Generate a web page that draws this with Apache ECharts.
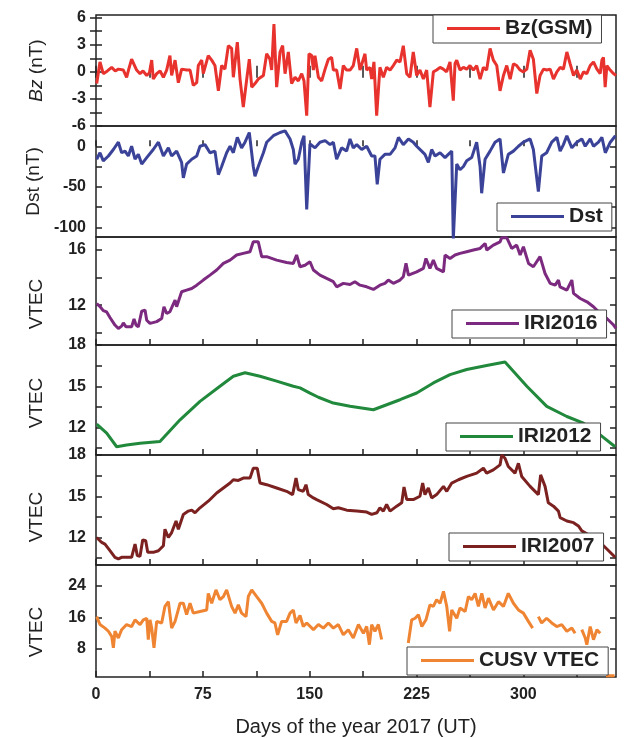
<!DOCTYPE html>
<html>
<head>
<meta charset="utf-8">
<script src="https://cdn.jsdelivr.net/npm/echarts@6/dist/echarts.min.js"></script>
<style>
html,body{margin:0;padding:0;background:#fff;}
#chart{width:625px;height:738px;}
</style>
</head>
<body>
<div id="chart"></div>
<script>
// ---- data (day of year, value) ----
const xTicks = [0, 37.5, 75, 112.5, 150, 187.5, 225, 262.5, 300, 337.5];
const xLabels = [0, 75, 150, 225, 300];

const bzTicks = [-6, -4.5, -3, -1.5, 0, 1.5, 3, 4.5, 6];
const bzLabels = [-6, -3, 0, 3, 6];
const dstTicks = [-100, -75, -50, -25, 0];
const dstLabels = [-100, -50, 0];
const iri16Ticks = [10, 12, 14, 16];
const iri16Labels = [12, 16];
const iri12Ticks = [10.5, 12, 13.5, 15, 16.5, 18];
const iri12Labels = [12, 15, 18];
const iri07Ticks = [10.5, 12, 13.5, 15, 16.5, 18];
const iri07Labels = [12, 15, 18];
const cusvTicks = [8, 16, 24];
const cusvLabels = [8, 16, 24];

const bz = [[0.5,-1.3],[2.8,1.1],[5.1,-0.2],[8,0.1],[11,0.5],[13.5,0.1],[15.7,0.3],[19.2,0.2],[21.5,-0.6],[23,0.3],[25,1.4],[28.5,0.2],[30.9,-0.2],[33,0.1],[35.6,-0.4],[37.5,-0.1],[39.1,1.3],[40.2,-0.8],[42.6,-0.2],[45,0.1],[47.3,-0.6],[49.6,0.2],[51.9,1.8],[53.1,-0.4],[55.5,1.3],[57.8,-1.2],[60.1,0.3],[63.6,0.2],[66,0.2],[68.3,-1.5],[70.7,-1.2],[71.8,0.7],[74.2,1.3],[75.3,-0.2],[78.8,1.8],[81.2,1.3],[83.5,0.7],[85.9,-2.1],[88.2,0.7],[90.5,0.3],[92.9,2.9],[95.2,2.6],[96.4,-0.6],[97.6,-0.4],[99.2,3.3],[101.1,-0.8],[103.4,-3.9],[105.8,-0.8],[107.6,1.4],[109.3,-1.7],[111.6,-1.3],[113.9,-0.8],[117.5,-0.4],[119.8,2.0],[122.1,1.4],[123.3,0.2],[124.9,5.3],[126.8,-1.7],[129.2,2.2],[131,2.9],[132.7,-0.2],[135,2.2],[137.3,-1.3],[139.7,-0.6],[142,-1.0],[144.4,-0.2],[146,-1.0],[147.9,-4.85],[149.5,2.0],[151.4,1.8],[152.6,0.2],[153.7,1.8],[156.1,-0.6],[158.4,-1.0],[160.8,0.3],[163.1,1.4],[165.4,1.6],[166.6,0.2],[168.9,0.2],[171.3,-1.9],[173.6,0.7],[175.9,0.2],[178.3,0.2],[180.6,0.7],[183,2.6],[185.3,0.2],[186.5,0.3],[188.8,2.0],[190,0.2],[192.3,0.5],[193.5,-0.8],[195.1,1.1],[197,-4.85],[199.3,0.5],[201.7,-0.6],[204,0.5],[206.4,0.2],[208.7,0.7],[211.1,1.3],[213.4,1.1],[215.7,2.9],[218.1,-0.2],[220.4,-0.6],[222.7,2.2],[225.1,-0.4],[227.4,0.2],[229.8,-0.8],[232.1,0.2],[234.4,-3.9],[236.8,0],[239.1,0.2],[241.5,0.5],[243.8,0.3],[246.1,0],[248.5,1.1],[249.7,-1.2],[250.8,-3.2],[252,0.9],[253.2,1.3],[255.5,0.2],[257.9,0.5],[260.2,0.3],[262.5,0.7],[264.9,0.2],[267.2,0.7],[269.6,-0.8],[271.9,0.5],[274.2,0.2],[276.6,2.6],[278.9,1.3],[281.3,0.7],[283.6,-2.1],[286,-0.4],[288.3,0.7],[290.7,-0.8],[293,0.9],[295.3,0.7],[297.7,0.2],[300,0],[302.4,0.3],[304.7,2.4],[307,1.4],[309.4,-2.4],[311.7,-0.4],[314.1,0.3],[316.4,0.2],[318.8,0.3],[321.1,-0.8],[323.5,0],[325.8,0.5],[328.1,0.3],[330.5,2.2],[332.8,0.9],[335.2,-0.4],[337.5,0.2],[339.9,-0.8],[342.2,0],[344.5,-0.2],[346.9,0.7],[349.2,1.1],[351.6,0.3],[353.9,-0.2],[355.1,1.3],[356.2,1.6],[357.4,-1.7],[358.6,0.7],[360.9,0.2],[363.3,-0.2],[365,-0.4]];

const dst = [[0.5,-16],[2.8,-8],[5.1,-18],[8.7,-12],[12.2,-4],[15.7,5],[18,-8],[20.4,-6],[22.7,-12],[25,0],[27.4,-16],[29.7,-10],[32.1,-22],[35.6,-14],[40.2,-4],[43.8,5],[47.3,-12],[50.8,-2],[53.1,-12],[56.6,-6],[60.1,-20],[61.3,-39],[63.6,-22],[67.2,-16],[70.7,-12],[73,0],[76.5,2],[80,-8],[83.5,-6],[85.9,-35],[88.2,-25],[91.7,-8],[94.1,0],[96.4,-8],[99.2,11],[102.2,-2],[104.6,5],[107.6,17],[110.4,-25],[111.6,-37],[113.9,-25],[117.5,-8],[119.8,5],[124.5,13],[129.2,17],[132.7,19],[136.2,9],[138.5,-4],[139.7,-22],[142,-16],[144.4,5],[146,13],[147.9,-78],[150.2,3],[153.7,-2],[157.2,5],[160.8,7],[164.3,2],[166.6,5],[168.9,-16],[172.4,-2],[175.9,-6],[178.3,9],[180.6,-2],[183,2],[186.5,-4],[190,0],[193.5,-12],[195.8,-12],[197.4,-47],[199.3,-16],[202.8,-10],[206.4,-10],[209.9,-2],[212.3,11],[215.7,2],[219.3,9],[222.7,5],[225.1,0],[228.6,-6],[230.9,-10],[233.3,-20],[235.6,-4],[238,-12],[241.5,-8],[245,-14],[247.3,-10],[249.7,-6],[250.8,-115],[253.2,-22],[255.5,-29],[257.9,-25],[260.2,-18],[263.7,-14],[267.2,5],[269.6,-25],[270.7,-58],[273.1,-16],[276.6,-6],[280.1,5],[283.6,9],[286,-33],[289.4,-10],[293,-6],[296.5,0],[300,5],[304.7,9],[307,-4],[310.5,-56],[312.9,-12],[316.3,-8],[319.9,5],[323.5,11],[325.8,-6],[328.1,2],[330.5,13],[334,-2],[337.5,5],[341,9],[343.4,0],[346.9,9],[349.2,0],[352.7,5],[355.1,11],[357.5,-8],[361,5],[364.6,13]];

const iri2016 = [[0.5,12.1],[2.8,11.9],[5.1,11.6],[7.5,11.5],[9.8,11.1],[13.3,10.55],[15.7,10.3],[18,10.47],[19.2,10.7],[21.1,10.42],[25,10.42],[26.7,11.0],[28.1,10.55],[29.7,10.42],[32.1,11.56],[34.4,11.64],[35.6,10.9],[37.9,10.67],[42.6,10.8],[46.1,11.03],[47.7,11.88],[49.6,11.39],[51.9,11.52],[55.5,12.36],[56.6,11.88],[60.1,12.97],[63.6,13.09],[67.2,13.21],[70.7,13.45],[75.3,13.82],[80,14.18],[84.7,14.55],[89.4,15.03],[94.1,15.27],[98.7,15.64],[103.4,15.76],[108.1,15.88],[110.4,16.6],[113.9,16.6],[116.3,15.52],[119.8,15.52],[126.8,15.27],[133.8,15.1],[138.5,15.03],[140.8,15.64],[143.2,14.79],[146.7,14.9],[147.9,15.03],[150.2,15.15],[152.6,14.55],[157.2,14.18],[161.9,13.94],[166.6,13.7],[168.9,13.33],[173.6,13.58],[178.3,13.5],[181.7,13.7],[185.3,13.45],[190,13.33],[194.7,13.14],[199.3,13.45],[202.8,13.58],[205.2,13.82],[208.7,13.58],[213.4,13.82],[215.7,14.06],[217.6,15.03],[219.3,14.18],[225.1,14.42],[229.8,14.67],[231.6,15.39],[234.4,14.67],[236.8,15.27],[239.1,14.67],[243.9,14.42],[245,15.64],[248.5,15.39],[252,15.64],[255.5,15.76],[260.2,15.88],[264.9,16.0],[269.6,16.12],[273.1,16.48],[274.3,16.0],[278.9,16.36],[283.6,16.6],[284.8,16.9],[288.3,16.9],[291.8,16.12],[295.3,16.36],[297.7,15.64],[300,16.24],[303.6,15.03],[307,14.79],[311.7,15.52],[315.2,14.3],[318.8,13.58],[322.3,13.45],[324.6,13.82],[325.7,13.33],[330.5,13.09],[334,13.82],[335.2,12.85],[339.9,12.48],[344.6,12.24],[349.2,11.88],[353.9,11.39],[358.6,11.03],[363.3,10.55],[365,10.3]];

const iri2012 = [[0.5,12.24],[7.5,11.59],[14.5,10.6],[21.5,10.73],[30.9,10.85],[44.9,10.98],[59,12.56],[73,13.9],[87,15],[96.4,15.73],[104.6,15.98],[115.1,15.73],[126.8,15.37],[138.5,15],[143.2,14.88],[150.2,14.5],[156.1,14.2],[166.6,13.78],[178.3,13.54],[194.7,13.29],[213.4,14.02],[225.1,14.51],[236.8,15.24],[248.5,15.85],[260.2,16.22],[274.2,16.51],[287.1,16.76],[302.4,15],[316.4,13.54],[330.5,12.8],[342.2,12.32],[353.9,11.46],[364.4,10.6]];

const iri2007 = [[0.5,12],[4,11.64],[6.3,11.52],[9.8,11.04],[13.3,10.56],[15.7,10.44],[18,10.56],[19.2,10.68],[21.1,10.56],[25,10.56],[27.4,11.52],[29,10.68],[30.9,10.63],[32.8,11.83],[34.9,11.76],[36.3,10.92],[40.2,10.92],[43.8,11.04],[47.3,11.4],[48.4,12.6],[50.8,12],[53.1,12.36],[56.2,13.2],[57.8,12.6],[61.3,13.68],[64.8,13.92],[67.2,13.99],[69.5,13.8],[73,14.16],[78.8,14.64],[84.7,15.24],[89.4,15.6],[94.1,15.96],[96.4,16.2],[99.9,16.15],[103.4,16.32],[108.1,16.32],[110.4,17.04],[113.2,17.04],[115.1,15.96],[119.8,15.84],[126.8,15.6],[133.8,15.36],[138,15.12],[140.4,16.32],[142,15.48],[145.5,15.36],[147.4,15.84],[149,15.12],[152.6,14.88],[154.9,14.76],[161.9,14.4],[166.6,14.09],[170.1,14.16],[176,13.99],[183,13.92],[190,13.85],[193.5,13.68],[197.2,13.8],[199.3,14.16],[201.7,13.92],[204,14.4],[206.4,13.92],[211.1,14.28],[214.6,14.52],[216.2,15.67],[218.1,14.76],[222.7,14.76],[227.4,15],[229.3,15.96],[230.9,15.12],[233.3,15.6],[235.6,14.88],[239.1,15.12],[243.9,15.72],[246.2,15.36],[249.7,15.96],[254.4,16.2],[260.2,16.44],[267.2,16.68],[271.9,17.04],[274.2,16.68],[278.9,16.92],[283.6,17.28],[284.8,18],[287.1,17.76],[289.4,17.16],[294.1,16.68],[296.5,17.4],[298.8,16.44],[304.7,15.72],[310.5,15.12],[312.1,16.56],[315.2,15.72],[317.5,14.52],[321.1,14.28],[324.6,13.92],[325.8,13.44],[330.5,13.2],[335.2,13.08],[338.6,12.84],[341,12.48],[346.9,12.12],[353.9,11.64],[358.6,11.16],[364.4,10.56]];

const cusv = [[0.5,16.2],[2.8,14.2],[6.3,13.3],[8.7,12.5],[11,11.2],[12.2,8.3],[13.3,12.5],[15.7,10.8],[18,12.9],[21.5,14.2],[25,13.7],[27.4,15.4],[30.9,14.2],[33.2,15.4],[35.6,15.8],[36.7,10.4],[37.9,15.4],[39.1,13.3],[40.7,8.3],[42.6,15],[46.1,14.6],[48.4,18.8],[50.8,20],[53.1,13.3],[55.5,15],[59,19.6],[61.3,19.6],[63.6,16.7],[66,19.6],[68.3,17.1],[73,17.5],[77.7,17.9],[78.8,22.1],[81.2,19.6],[84.2,23],[87,20.5],[89.4,21.3],[91.7,23],[95.2,18.8],[97.6,17.1],[99.9,19.2],[102.2,17.1],[105.3,16.2],[106.9,21.3],[109.3,23],[112.8,21.3],[116.3,19.6],[119.8,17.1],[123.3,15],[125.6,14.6],[127.5,11.6],[130.3,15],[133.8,15],[136.2,17.1],[138.5,17.9],[140.4,14.6],[143.2,16.5],[145.5,13.7],[147.9,14.6],[149,14.15],[152.6,12.9],[156.1,14.2],[159.6,13.3],[163.1,14.6],[166.6,13.3],[170.1,14.2],[173.6,11.6],[177.1,12.9],[180.6,10.8],[184.2,14.2],[187.7,12],[190,13.7],[191.9,9.1],[193.5,14.2],[195.8,12.5],[198.2,14.2],[200.5,10.4],[210,null],[219.2,9.5],[221.6,15.4],[224,15.8],[226.3,16.7],[228.7,13.7],[231.6,15.4],[234.4,19.2],[236.8,18.8],[239.1,20.5],[241.5,19.6],[243.9,22.6],[246.2,18.8],[248.2,12.5],[249.7,17.9],[253.2,15.8],[255.5,18.4],[259.1,17.5],[261.4,21.3],[263.7,20.5],[266.1,22.1],[268.4,18.8],[270.8,22.1],[273.1,18.4],[275.5,20.9],[279,17.9],[282.5,20],[286,18.8],[289.4,22.1],[293,19.6],[296.5,17.9],[300,17.1],[303.5,15],[306.5,13.3],[308.5,null],[310.5,16.2],[312.8,14.6],[316.3,15.8],[319.9,14.6],[323.4,13.7],[326.9,14.2],[330.5,12.5],[334,13.3],[336.3,12],[338.5,null],[341,12.9],[343.4,10.8],[344.5,9.1],[346.9,13.7],[349.2,10.35],[351.6,12.9],[353.9,12],[356,null],[358,1.2],[364,1.2]];

// ---- layout / style ----
const FONT = 'Liberation Sans, Arial, sans-serif';
const INK = '#222';
const panels = [
  {name:'Bz(GSM)', data:bz, color:'#e8322d', top:15, bottom:126, min:-6, max:6.3, ticks:bzTicks, labels:bzLabels, axisName:'{i|Bz} (nT)', shift:0, legend:{left:433, top:15}},
  {name:'Dst', data:dst, color:'#3b4399', top:126, bottom:237, min:-112, max:25, ticks:dstTicks, labels:dstLabels, axisName:'Dst (nT)', shift:0, legend:{left:497, top:203}},
  {name:'IRI2016', data:iri2016, color:'#7c2a7f', top:237, bottom:345, min:9.1, max:16.95, ticks:iri16Ticks, labels:iri16Labels, axisName:'VTEC', shift:13, legend:{left:452, top:310}},
  {name:'IRI2012', data:iri2012, color:'#21893b', top:345, bottom:455, min:10, max:18, ticks:iri12Ticks, labels:iri12Labels, axisName:'VTEC', shift:3, legend:{left:446, top:423}},
  {name:'IRI2007', data:iri2007, color:'#7b2120', top:455, bottom:565, min:10, max:18, ticks:iri07Ticks, labels:iri07Labels, axisName:'VTEC', shift:7, legend:{left:449, top:533}},
  {name:'CUSV VTEC', data:cusv, color:'#ef8532', top:565, bottom:677, min:0.9, max:29.3, ticks:cusvTicks, labels:cusvLabels, axisName:'VTEC', shift:11, legend:{left:407, top:647}}
];

const tickStyle = {inside:true, length:6, lineStyle:{color:INK, width:1.5}};
const labelStyle = {color:INK, fontFamily:FONT, fontWeight:'bold', fontSize:16};

const grid = [], xAxis = [], yAxis = [], series = [], legend = [];
panels.forEach((p, i) => {
  grid.push({left:96, width:520, top:p.top, height:p.bottom - p.top, show:true, borderColor:INK, borderWidth:1.5, backgroundColor:'transparent'});
  const last = i === panels.length - 1;
  xAxis.push({
    gridIndex:i, type:'value', min:0, max:365, position:'bottom',
    axisLine:{show:false}, splitLine:{show:false},
    axisTick:Object.assign({customValues:xTicks}, tickStyle),
    axisLabel:Object.assign({show:last, customValues:xLabels, margin:10}, labelStyle),
    name: last ? 'Days of the year 2017 (UT)' : '',
    nameLocation:'middle', nameGap:40,
    nameTextStyle:{color:INK, fontFamily:FONT, fontSize:20}
  });
  yAxis.push({
    gridIndex:i, type:'value', min:p.min, max:p.max, position:'left',
    axisLine:{show:false}, splitLine:{show:false},
    axisTick:Object.assign({customValues:p.ticks}, tickStyle),
    axisLabel:Object.assign({customValues:p.labels, margin:10}, labelStyle),
    name:p.axisName, nameLocation:'middle', nameGap:50,
    nameTextStyle:{color:INK, fontFamily:FONT, fontSize:19, padding:[0, 2*p.shift, 0, 0], rich:{i:{fontStyle:'italic', fontFamily:FONT, fontSize:19, color:INK}}}
  });
  series.push({
    name:p.name, type:'line', xAxisIndex:i, yAxisIndex:i, data:p.data,
    showSymbol:false, symbol:'none', connectNulls:false, clip:true,
    lineStyle:{color:p.color, width:3}, itemStyle:{color:p.color}, z:2
  });
  legend.push({
    data:[p.name], left:p.legend.left, top:p.legend.top, orient:'horizontal',
    icon:'rect', itemWidth:53, itemHeight:3, padding:[3, 9, 4, 14],
    borderColor:'#444', borderWidth:1, backgroundColor:'#fff', selectedMode:false,
    textStyle:{color:INK, fontFamily:FONT, fontWeight:'bold', fontSize:21}, z:5
  });
});
// right-side ticks
panels.forEach((p, i) => {
  yAxis.push({
    gridIndex:i, type:'value', min:p.min, max:p.max, position:'right',
    axisLine:{show:false}, splitLine:{show:false},
    axisTick:Object.assign({customValues:p.ticks}, tickStyle),
    axisLabel:{show:false}
  });
});
// top ticks of first panel
xAxis.push({
  gridIndex:0, type:'value', min:0, max:365, position:'top',
  axisLine:{show:false}, splitLine:{show:false},
  axisTick:Object.assign({customValues:xTicks}, tickStyle),
  axisLabel:{show:false}
});

const chart = echarts.init(document.getElementById('chart'), null, {renderer:'canvas'});
chart.setOption({
  backgroundColor:'#fff',
  animation:false,
  grid, xAxis, yAxis, series, legend
});
</script>
</body>
</html>
